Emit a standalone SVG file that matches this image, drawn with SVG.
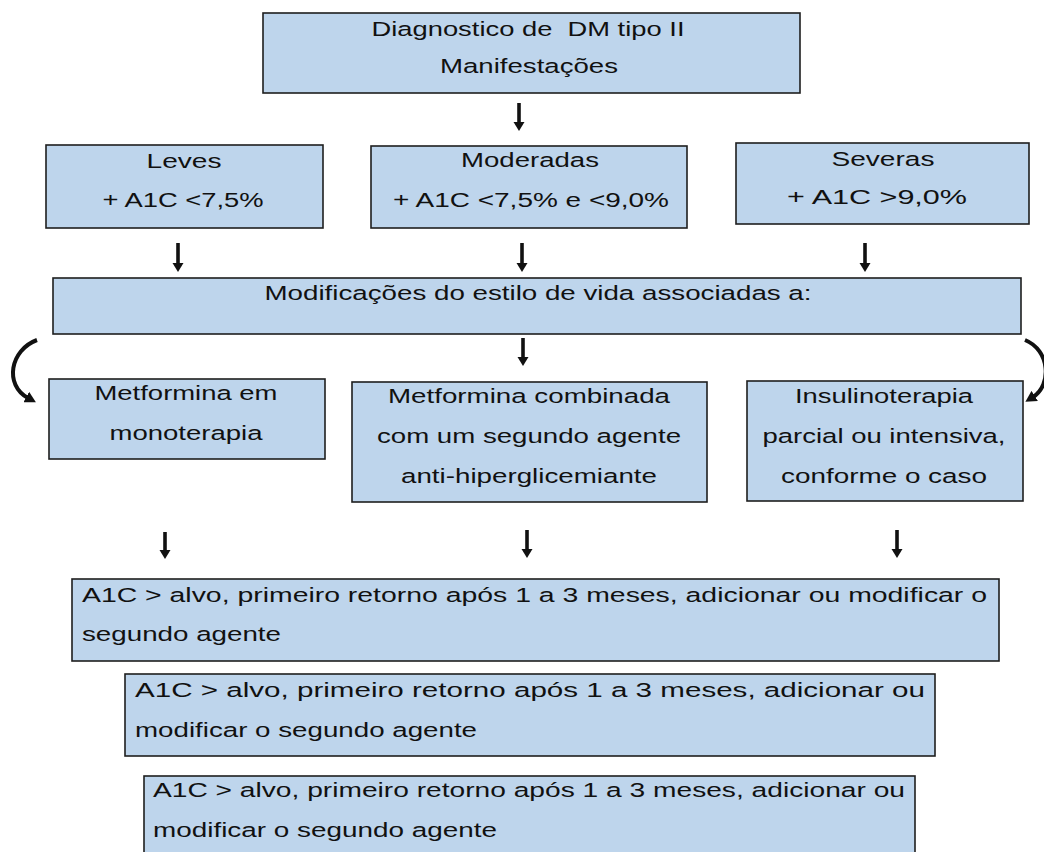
<svg xmlns="http://www.w3.org/2000/svg" width="1044" height="852" viewBox="0 0 1044 852">
<style>
.box{fill:#bed5ec;stroke:#1e1e1e;stroke-width:1.6}
.t{font-family:"Liberation Sans",Arial,sans-serif;font-size:20.5px;fill:#111}
.c{text-anchor:middle}
.arr{stroke:#111;stroke-width:3.6;fill:none}
.curve{stroke:#111;stroke-width:4;fill:none}
</style>
<defs>
<marker id="ah" markerUnits="userSpaceOnUse" markerWidth="12" markerHeight="12" refX="2" refY="5.5" orient="auto" viewBox="0 0 12 11">
<path d="M0,0 L9,5.5 L0,11 Z" fill="#111"/>
</marker>
<marker id="ah2" markerUnits="userSpaceOnUse" markerWidth="14" markerHeight="12" refX="2" refY="6" orient="auto" viewBox="0 0 14 12">
<path d="M0,0 L11,6 L0,12 Z" fill="#111"/>
</marker>
</defs>
<rect width="1044" height="852" fill="#ffffff"/>

<g id="connectors">
<line class="arr" x1="519" y1="103" x2="519" y2="124" marker-end="url(#ah)"/>
<line class="arr" x1="178" y1="243" x2="178" y2="265" marker-end="url(#ah)"/>
<line class="arr" x1="522" y1="243" x2="522" y2="265" marker-end="url(#ah)"/>
<line class="arr" x1="865" y1="243" x2="865" y2="265" marker-end="url(#ah)"/>
<line class="arr" x1="523" y1="338" x2="523" y2="359" marker-end="url(#ah)"/>
<line class="arr" x1="165" y1="532" x2="165" y2="552" marker-end="url(#ah)"/>
<line class="arr" x1="527" y1="530" x2="527" y2="551" marker-end="url(#ah)"/>
<line class="arr" x1="897" y1="530" x2="897" y2="551" marker-end="url(#ah)"/>
<path class="curve" d="M37,340 C10,350 4,385 28,398" marker-end="url(#ah2)"/>
<path class="curve" d="M1025,340 C1050,350 1052,385 1033,397" marker-end="url(#ah2)"/>
</g>

<g id="n-diagnostico">
<rect class="box" x="263" y="13" width="537" height="80"/>
<text class="t c" x="528" y="36" textLength="313" lengthAdjust="spacingAndGlyphs">Diagnostico de&#160; DM tipo II</text>
<text class="t c" x="529" y="73" textLength="178" lengthAdjust="spacingAndGlyphs">Manifestações</text>
</g>

<g id="n-leves">
<rect class="box" x="46" y="145" width="277" height="83"/>
<text class="t c" x="184" y="168" textLength="75" lengthAdjust="spacingAndGlyphs">Leves</text>
<text class="t c" x="183" y="207" textLength="161" lengthAdjust="spacingAndGlyphs">+ A1C &lt;7,5%</text>
</g>

<g id="n-moderadas">
<rect class="box" x="371" y="146" width="316" height="82"/>
<text class="t c" x="530" y="167" textLength="138" lengthAdjust="spacingAndGlyphs">Moderadas</text>
<text class="t c" x="531" y="207" textLength="276" lengthAdjust="spacingAndGlyphs">+ A1C &lt;7,5% e &lt;9,0%</text>
</g>

<g id="n-severas">
<rect class="box" x="736" y="143" width="293" height="81"/>
<text class="t c" x="883" y="166" textLength="103" lengthAdjust="spacingAndGlyphs">Severas</text>
<text class="t c" x="877" y="204" textLength="180" lengthAdjust="spacingAndGlyphs">+ A1C &gt;9,0%</text>
</g>

<g id="n-modificacoes">
<rect class="box" x="53" y="278" width="968" height="56"/>
<text class="t c" x="538" y="300" textLength="547" lengthAdjust="spacingAndGlyphs">Modificações do estilo de vida associadas a:</text>
</g>

<g id="n-metformina-mono">
<rect class="box" x="49" y="379" width="276" height="80"/>
<text class="t c" x="186" y="400" textLength="183" lengthAdjust="spacingAndGlyphs">Metformina em</text>
<text class="t c" x="186" y="440" textLength="153" lengthAdjust="spacingAndGlyphs">monoterapia</text>
</g>

<g id="n-metformina-comb">
<rect class="box" x="352" y="382" width="355" height="120"/>
<text class="t c" x="529" y="403" textLength="282" lengthAdjust="spacingAndGlyphs">Metformina combinada</text>
<text class="t c" x="529" y="443" textLength="304" lengthAdjust="spacingAndGlyphs">com um segundo agente</text>
<text class="t c" x="529" y="483" textLength="256" lengthAdjust="spacingAndGlyphs">anti-hiperglicemiante</text>
</g>

<g id="n-insulinoterapia">
<rect class="box" x="747" y="381" width="276" height="120"/>
<text class="t c" x="884" y="403" textLength="178" lengthAdjust="spacingAndGlyphs">Insulinoterapia</text>
<text class="t c" x="884" y="443" textLength="243" lengthAdjust="spacingAndGlyphs">parcial ou intensiva,</text>
<text class="t c" x="884" y="483" textLength="206" lengthAdjust="spacingAndGlyphs">conforme o caso</text>
</g>

<g id="n-retorno-1">
<rect class="box" x="72" y="579" width="927" height="82"/>
<text class="t" x="82" y="602" textLength="905" lengthAdjust="spacingAndGlyphs">A1C &gt; alvo, primeiro retorno após 1 a 3 meses, adicionar ou modificar o</text>
<text class="t" x="82" y="641" textLength="199" lengthAdjust="spacingAndGlyphs">segundo agente</text>
</g>

<g id="n-retorno-2">
<rect class="box" x="125" y="674" width="810" height="82"/>
<text class="t" x="135" y="697" textLength="790" lengthAdjust="spacingAndGlyphs">A1C &gt; alvo, primeiro retorno após 1 a 3 meses, adicionar ou</text>
<text class="t" x="135" y="737" textLength="342" lengthAdjust="spacingAndGlyphs">modificar o segundo agente</text>
</g>

<g id="n-retorno-3">
<rect class="box" x="144" y="776" width="771" height="90"/>
<text class="t" x="153" y="797" textLength="752" lengthAdjust="spacingAndGlyphs">A1C &gt; alvo, primeiro retorno após 1 a 3 meses, adicionar ou</text>
<text class="t" x="153" y="837" textLength="344" lengthAdjust="spacingAndGlyphs">modificar o segundo agente</text>
</g>
</svg>
